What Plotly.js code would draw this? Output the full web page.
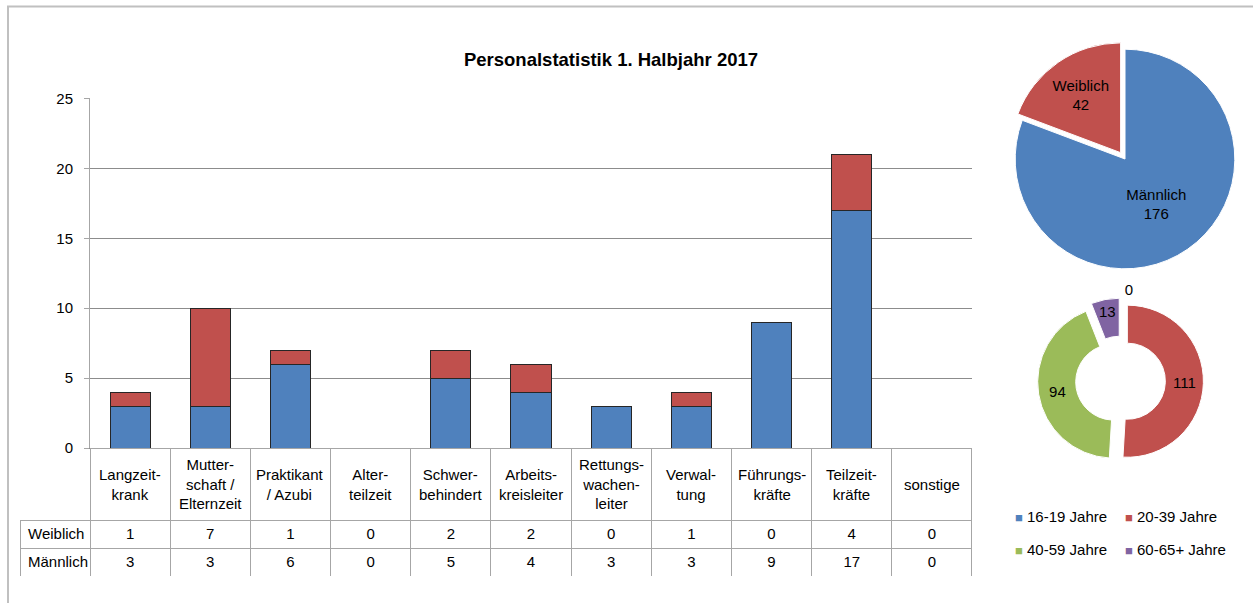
<!DOCTYPE html>
<html><head><meta charset="utf-8">
<script src="https://cdn.plot.ly/plotly-3.0.1.min.js"></script>
<style>html,body{margin:0;padding:0;background:#fff}#chart{width:1253px;height:603px}</style>
</head><body><div id="chart"></div>
<script>
// ---- data ----
const categories = ['Langzeit-<br>krank', 'Mutter-<br>schaft /<br>Elternzeit', 'Praktikant<br>/ Azubi', 'Alter-<br>teilzeit', 'Schwer-<br>behindert', 'Arbeits-<br>kreisleiter', 'Rettungs-<br>wachen-<br>leiter', 'Verwal-<br>tung', 'Führungs-<br>kräfte', 'Teilzeit-<br>kräfte', 'sonstige'];
const weiblich = [1, 7, 1, 0, 2, 2, 0, 1, 0, 4, 0];
const maennlich = [3, 3, 6, 0, 5, 4, 3, 3, 9, 17, 0];
const seriesNames = ['Weiblich', 'Männlich'];
const genderLabels = ['Männlich', 'Weiblich'];
const genderTotals = [176, 42];
const ageLabels = ['16-19 Jahre', '20-39 Jahre', '40-59 Jahre', '60-65+ Jahre'];
const ageValues = [0, 111, 94, 13];
const yTicks = [0, 5, 10, 15, 20, 25];
const chartTitle = 'Personalstatistik 1. Halbjahr 2017';

// ---- layout helpers ----
const W = 1253, H = 603;
const px = x => x / W;
const py = y => 1 - y / H;
const BLUE = '#4F81BD', RED = '#C0504D', GREEN = '#9BBB59', PURPLE = '#8064A2';
const ageColors = [BLUE, RED, GREEN, PURPLE];
const FONT = 'Liberation Sans, Arial, sans-serif';
const FS = 15;
const GRID = '#8c8c8c', TABLE_LINE = '#a6a6a6', NONE = 'rgba(0,0,0,0)';

const lineW = arr => arr.map(v => v > 0 ? 1 : 0);

const traces = [
  { type: 'bar', name: seriesNames[1], x: categories, y: maennlich,
    marker: { color: BLUE, line: { color: '#262626', width: lineW(maennlich) } },
    showlegend: false, xaxis: 'x', yaxis: 'y' },
  { type: 'bar', name: seriesNames[0], x: categories, y: weiblich,
    marker: { color: RED, line: { color: '#262626', width: lineW(weiblich) } },
    showlegend: false, xaxis: 'x', yaxis: 'y' },
  { type: 'table',
    domain: { x: [px(20), px(972)], y: [py(576), py(448)] },
    columnwidth: [70].concat(categories.map(() => 80.18)),
    header: {
      values: [''].concat(categories.map(() => '')),
      height: 72,
      fill: { color: [NONE].concat(categories.map(() => '#fff')) },
      line: { color: [NONE].concat(categories.map(() => TABLE_LINE)), width: 1 }
    },
    cells: {
      values: [seriesNames].concat(categories.map((c, i) => [weiblich[i], maennlich[i]])),
      height: 28,
      align: ['left'].concat(categories.map(() => 'center')),
      font: { family: FONT, size: FS, color: '#000' },
      fill: { color: '#fff' },
      line: { color: TABLE_LINE, width: 1 }
    }
  },
  { type: 'pie', labels: genderLabels, values: genderTotals, sort: false,
    direction: 'clockwise', rotation: 0, pull: [0, 0.07],
    domain: { x: [px(1007.5), px(1242.5)], y: [py(276.5), py(41.5)] },
    marker: { colors: [BLUE, RED], line: { color: '#fff', width: 1 } },
    textinfo: 'label+value', textposition: 'inside', insidetextorientation: 'horizontal',
    textfont: { family: FONT, size: FS, color: '#000' },
    showlegend: false, hoverinfo: 'none' },
  { type: 'pie', labels: ageLabels, values: ageValues, sort: false,
    direction: 'clockwise', rotation: 0, hole: 0.5, pull: 0.09,
    domain: { x: [px(1037.6), px(1203.4)], y: [py(464), py(298)] },
    marker: { colors: ageColors, line: { color: '#fff', width: 1 } },
    textinfo: 'value', textposition: ['outside', 'inside', 'inside', 'inside'],
    insidetextorientation: 'horizontal',
    textfont: { family: FONT, size: FS, color: '#000' },
    showlegend: false, hoverinfo: 'none' }
];

// category header of the data table: one label per category, centred in its column
const headerAnnotations = categories.map(c => ({
  xref: 'x', yref: 'paper', x: c, y: py(484), xanchor: 'center', yanchor: 'middle',
  align: 'center', showarrow: false, text: c,
  font: { family: FONT, size: FS, color: '#000' }
}));

// legend of the donut (2 x 2 grid), built from the age labels / colours
const legendAnnotations = ageLabels.map((lab, i) => ({
  xref: 'paper', yref: 'paper', xanchor: 'left', yanchor: 'middle', showarrow: false,
  x: px(1013 + (i % 2) * 110), y: py(516 + Math.floor(i / 2) * 33),
  text: '<span style="color:' + ageColors[i] + ';font-size:13px">■</span> ' + lab,
  font: { family: FONT, size: FS, color: '#000' }
}));

const layout = {
  width: W, height: H,
  margin: { l: 0, r: 0, t: 0, b: 0, autoexpand: false },
  paper_bgcolor: '#fff', plot_bgcolor: '#fff',
  font: { family: FONT, size: FS, color: '#000' },
  barmode: 'stack', bargap: 0.5, showlegend: false,
  title: { text: '<b>' + chartTitle + '</b>', x: px(611), xanchor: 'center',
           y: py(60), yanchor: 'middle', font: { family: FONT, size: 18.5, color: '#000' } },
  xaxis: { domain: [px(90), px(972)], showticklabels: false, ticks: '',
           showline: true, linecolor: GRID, linewidth: 1, showgrid: false, zeroline: false,
           fixedrange: true },
  yaxis: { domain: [py(448), py(98)], range: [0, 25.03], tickvals: yTicks,
           showline: true, linecolor: '#a6a6a6', linewidth: 1,
           ticks: 'outside', ticklen: 5, tickcolor: '#a6a6a6',
           gridcolor: GRID, gridwidth: 1, zeroline: false,
           tickfont: { family: FONT, size: FS, color: '#000' }, ticklabelstandoff: 8 },
  annotations: headerAnnotations.concat(legendAnnotations),
  shapes: [
    { type: 'rect', xref: 'paper', yref: 'paper', x0: px(8), x1: 1.02, y0: -0.02, y1: py(6.5),
      line: { color: '#c0c0c0', width: 2 }, fillcolor: NONE, layer: 'below' }
  ]
};

Plotly.newPlot('chart', traces, layout, { staticPlot: true, displayModeBar: false });
</script>
</body></html>
